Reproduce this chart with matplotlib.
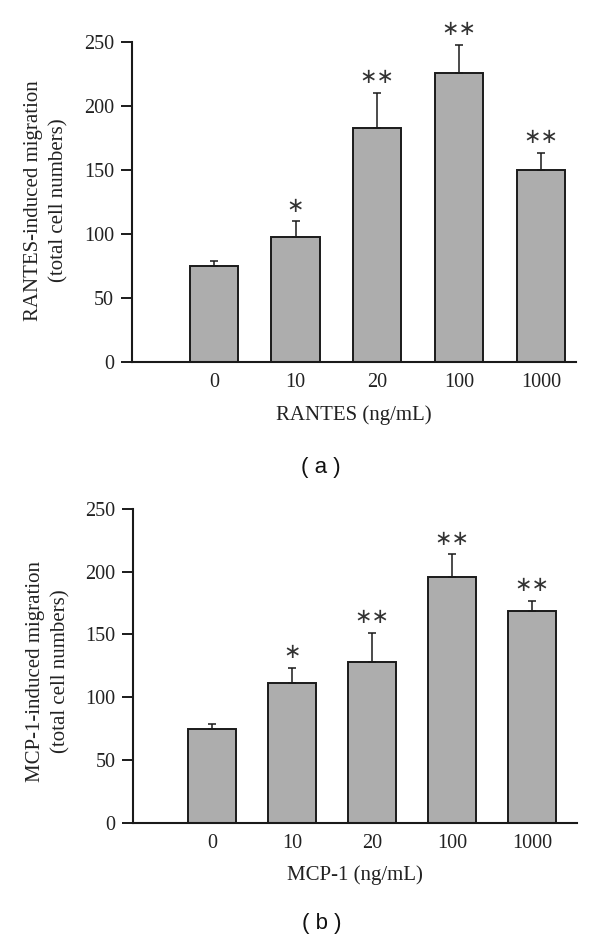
import matplotlib
matplotlib.use('Agg')
import matplotlib.pyplot as plt
import numpy as np

categories = ['0', '10', '20', '100', '1000']
rantes_mean = [75, 97.5, 182.5, 225.5, 150]
rantes_err = [4, 12.5, 28, 22.5, 13.5]
rantes_stars = ['', '∗', '∗∗', '∗∗', '∗∗']
mcp1_mean = [75, 111, 128, 196, 169]
mcp1_err = [4, 12.5, 23.5, 18, 8]
mcp1_stars = ['', '∗', '∗∗', '∗∗', '∗∗']
yticks = [0, 50, 100, 150, 200, 250]

SERIF = ['Liberation Serif', 'DejaVu Serif']
INK = '#1a1a1a'

fig = plt.figure(figsize=(6, 9.38), dpi=100)


def panel(rect, means, errs, stars, ylabel, xlabel, xlim, width, ylab_y, tag, tag_xy):
    ax = fig.add_axes(rect)
    x = np.arange(len(categories))
    ax.bar(x, means, width=width, color='#adadad', edgecolor=INK,
           linewidth=1.4, zorder=2)
    ax.errorbar(x, means, yerr=[np.zeros(len(errs)), errs], fmt='none',
                ecolor=INK, elinewidth=1.1, capsize=3, capthick=1.1, zorder=3)
    for xi, m, e, s in zip(x, means, errs, stars):
        if s:
            ax.annotate(s, xy=(xi, m + e), xytext=(0, 11),
                        textcoords='offset points', ha='center', va='center',
                        fontsize=15, family=['DejaVu Sans'], color='#333333')
    ax.set_xlim(*xlim)
    ax.set_ylim(0, 250)
    ax.set_yticks(yticks)
    ax.set_yticklabels([str(v) for v in yticks], family=SERIF, fontsize=14.5,
                       color='#222222')
    ax.set_xticks(x)
    ax.set_xticklabels(categories, family=SERIF, fontsize=14.5, color='#222222')
    ax.tick_params(axis='x', length=0, pad=8)
    ax.tick_params(axis='y', length=8, width=1.4, pad=5, color=INK)
    for sp in ['top', 'right']:
        ax.spines[sp].set_visible(False)
    for sp in ['left', 'bottom']:
        ax.spines[sp].set_linewidth(1.5)
        ax.spines[sp].set_color(INK)
    ax.set_ylabel(ylabel, family=SERIF, fontsize=15, linespacing=1.45,
                  color='#222222')
    ax.yaxis.set_label_coords(-0.142, ylab_y)
    ax.set_xlabel(xlabel, family=SERIF, fontsize=15, color='#222222')
    ax.xaxis.set_label_coords(0.5, -0.135)
    fig.text(tag_xy[0], tag_xy[1], tag, ha='center', va='center',
             fontsize=16, family=['Liberation Sans', 'DejaVu Sans'],
             color='#111111')
    return ax


panel([0.22, 0.6144, 0.74, 0.3408], rantes_mean, rantes_err, rantes_stars,
      'RANTES-induced migration\n(total cell numbers)', 'RANTES (ng/mL)',
      (-1.0, 4.43), 0.59, 0.505, '( a )', (0.535, 0.502))

panel([0.2222, 0.1229, 0.7395, 0.3345], mcp1_mean, mcp1_err, mcp1_stars,
      'MCP-1-induced migration\n(total cell numbers)', 'MCP-1 (ng/mL)',
      (-0.98, 4.56), 0.6, 0.482, '( b )', (0.537, 0.015))

fig.savefig('out.png', dpi=100)
